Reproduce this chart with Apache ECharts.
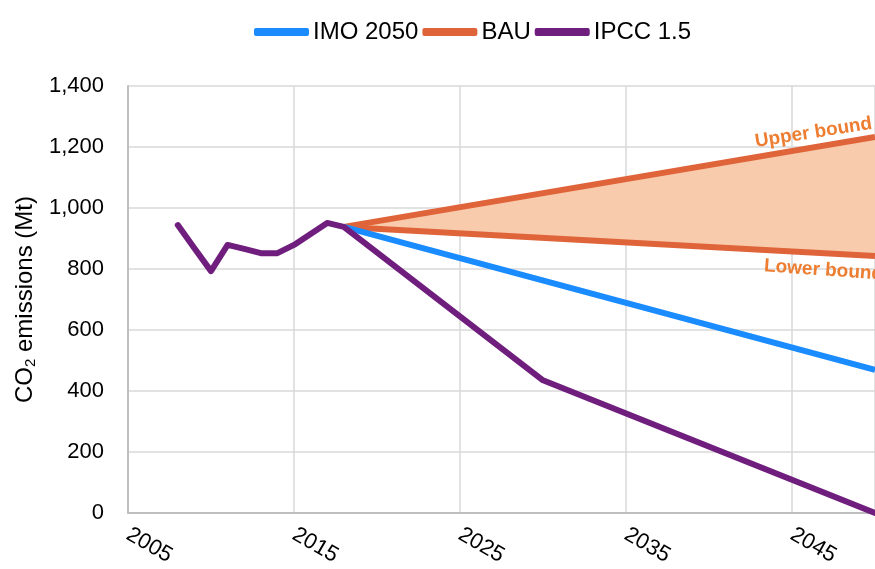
<!DOCTYPE html>
<html>
<head>
    <meta charset="utf-8">
    <title>CO2 emissions scenarios</title>
    <script src="https://cdn.jsdelivr.net/npm/echarts@6/dist/echarts.min.js"></script>
    <style>
        html, body { margin: 0; padding: 0; background: #fff; }
        #chart { width: 875px; height: 569px; }
    </style>
</head>
<body>
<div id="chart"></div>
<script>
    // historical + IPCC 1.5 pathway
    var ipccYears = [2008, 2009, 2010, 2011, 2012, 2013, 2014, 2015, 2016, 2017, 2018, 2030, 2050];
    var ipccValues = [944, 868, 793, 879, 866, 852, 852, 879, 915, 951, 938, 435, 0];

    // IMO 2050 target
    var imoYears = [2018, 2050];
    var imoValues = [938, 469];

    // BAU range
    var bauYears = [2018, 2050];
    var bauUpper = [938, 1233];
    var bauLower = [938, 843];

    // annotation anchors [year, value]
    var upperLabelAt = [2046.3, 1247];
    var lowerLabelAt = [2046.9, 796];

    var FONT = 'Liberation Sans';
    var C_BLUE = '#1A8CFF';
    var C_ORANGE = '#E0643A';
    var C_PURPLE = '#701E7E';
    var C_FILL = '#F8CBAD';
    var C_TEXT = '#ED7D31';

    function pairs(xs, ys) {
        return xs.map(function (x, i) { return [x, ys[i]]; });
    }

    var chart = echarts.init(document.getElementById('chart'));

    var option = {
        animation: false,
        textStyle: { fontFamily: FONT },
        legend: {
            top: 15,
            left: 249,
            itemWidth: 55,
            itemHeight: 8,
            itemGap: 4,
            icon: 'roundRect',
            data: ['IMO 2050', 'BAU', 'IPCC 1.5'],
            textStyle: { fontFamily: FONT, fontSize: 24, color: '#000', padding: [0, 0, 0, -1] }
        },
        grid: { left: 128, right: 0, top: 86, bottom: 56 },
        xAxis: {
            type: 'value',
            min: 2005,
            max: 2050,
            interval: 10,
            axisLine: { show: true, lineStyle: { color: '#BFBFBF', width: 2 } },
            axisTick: { show: false },
            splitLine: { show: true, lineStyle: { color: '#D9D9D9', width: 1.5 } },
            axisLabel: {
                rotate: -30,
                margin: 20,
                fontFamily: FONT,
                fontSize: 22,
                color: '#000',
                showMaxLabel: false,
                formatter: function (v) { return v === 2050 ? '' : String(v); }
            }
        },
        yAxis: {
            type: 'value',
            min: 0,
            max: 1400,
            interval: 200,
            name: 'CO{sub|2} emissions (Mt)',
            nameLocation: 'middle',
            nameGap: 87,
            nameTextStyle: {
                fontFamily: FONT,
                fontSize: 24,
                color: '#000',
                rich: {
                    sub: { fontFamily: FONT, fontSize: 15, color: '#000', verticalAlign: 'bottom', padding: [11, 0, 0, 0] }
                }
            },
            axisLine: { show: true, lineStyle: { color: '#BFBFBF', width: 2 } },
            axisTick: { show: false },
            splitLine: { show: true, lineStyle: { color: '#D9D9D9', width: 1.5 } },
            axisLabel: {
                margin: 24,
                fontFamily: FONT,
                fontSize: 22,
                color: '#000',
                formatter: function (v) { return v.toLocaleString('en-US'); }
            }
        },
        series: [
            {
                name: 'BAU range',
                type: 'custom',
                z: 1,
                silent: true,
                data: [0],
                renderItem: function (params, api) {
                    var pts = [];
                    for (var i = 0; i < bauYears.length; i++) pts.push(api.coord([bauYears[i], bauUpper[i]]));
                    for (var j = bauYears.length - 1; j >= 0; j--) pts.push(api.coord([bauYears[j], bauLower[j]]));
                    return { type: 'polygon', shape: { points: pts }, style: { fill: C_FILL } };
                }
            },
            {
                name: 'BAU',
                type: 'line',
                z: 2,
                data: pairs(bauYears, bauUpper),
                showSymbol: false,
                color: C_ORANGE,
                lineStyle: { color: C_ORANGE, width: 6 },
                markPoint: {
                    symbolSize: 0,
                    data: [{ coord: upperLabelAt, value: 'Upper bound' }],
                    label: {
                        show: true, position: 'inside', rotate: 9,
                        formatter: '{c}', color: C_TEXT, fontFamily: FONT, fontSize: 19, fontWeight: 'bold'
                    }
                }
            },
            {
                name: 'BAU',
                type: 'line',
                z: 2,
                data: pairs(bauYears, bauLower),
                showSymbol: false,
                color: C_ORANGE,
                lineStyle: { color: C_ORANGE, width: 6 },
                markPoint: {
                    symbolSize: 0,
                    data: [{ coord: lowerLabelAt, value: 'Lower bound' }],
                    label: {
                        show: true, position: 'inside', rotate: -4,
                        formatter: '{c}', color: C_TEXT, fontFamily: FONT, fontSize: 19, fontWeight: 'bold'
                    }
                }
            },
            {
                name: 'IMO 2050',
                type: 'line',
                z: 3,
                data: pairs(imoYears, imoValues),
                showSymbol: false,
                color: C_BLUE,
                lineStyle: { color: C_BLUE, width: 6 }
            },
            {
                name: 'IPCC 1.5',
                type: 'line',
                z: 4,
                data: pairs(ipccYears, ipccValues),
                showSymbol: false,
                color: C_PURPLE,
                lineStyle: { color: C_PURPLE, width: 6, join: 'round', cap: 'round' }
            }
        ]
    };

    chart.setOption(option);
</script>
</body>
</html>
